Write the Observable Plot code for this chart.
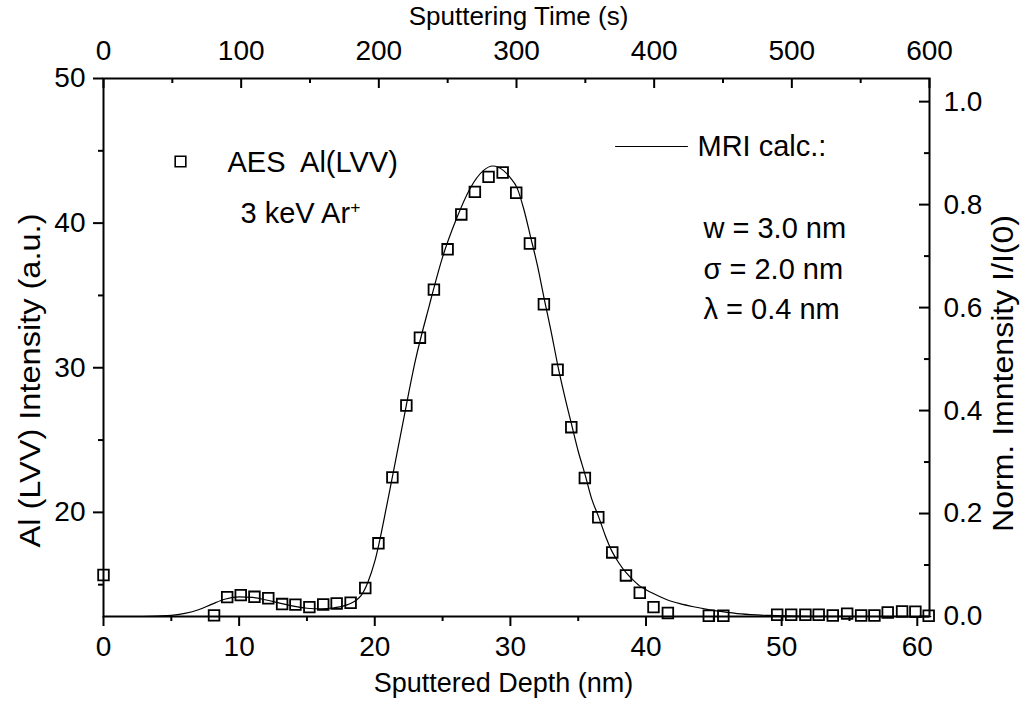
<!DOCTYPE html>
<html>
<head>
<meta charset="utf-8">
<script src="https://cdn.jsdelivr.net/npm/d3@7"></script>
<script src="https://cdn.jsdelivr.net/npm/@observablehq/plot@0.6"></script>
<style>
  html, body { margin: 0; padding: 0; background: #fff; }
  svg text { white-space: pre; }
</style>
</head>
<body>
<div id="chart"></div>
<script>
// ---- measured AES data points: sputtered depth (nm) and Al(LVV) intensity (a.u.)
const aesDepth = [0, 8.15, 9.12, 10.12, 11.13, 12.15, 13.17, 14.15, 15.18, 16.2, 17.19, 18.22, 19.3, 20.27, 21.3, 22.33, 23.33, 24.36, 25.37, 26.38, 27.38, 28.39, 29.43, 30.43, 31.44, 32.47, 33.48, 34.49, 35.49, 36.48, 37.51, 38.52, 39.54, 40.55, 41.61, 44.63, 45.7, 49.67, 50.7, 51.75, 52.73, 53.77, 54.83, 55.86, 56.84, 57.82, 58.88, 59.86, 60.84];
const aesIntensity = [15.67, 12.88, 14.14, 14.28, 14.16, 14.06, 13.66, 13.62, 13.45, 13.63, 13.7, 13.75, 14.77, 17.86, 22.42, 27.39, 32.08, 35.4, 38.19, 40.6, 42.16, 43.2, 43.5, 42.1, 38.59, 34.39, 29.86, 25.89, 22.38, 19.66, 17.23, 15.64, 14.44, 13.45, 13.04, 12.85, 12.85, 12.92, 12.92, 12.92, 12.92, 12.87, 13.0, 12.87, 12.87, 13.08, 13.15, 13.13, 12.85];

// ---- MRI calculation: depth (nm) and normalized intensity I/I(0)
const mriDepth = [0, 2, 4, 5, 6, 7, 8, 9, 10, 11, 12, 13, 14, 15, 16, 17, 18, 19, 19.5, 20, 21, 22, 23, 24, 25, 26, 27, 28, 28.7, 29.5, 30, 30.5, 31, 31.5, 32, 32.5, 33, 33.5, 34, 34.5, 35, 35.5, 36, 36.5, 37, 37.5, 38, 38.5, 39, 39.5, 40, 40.5, 41.5, 42.5, 43.5, 44.5, 45.5, 47, 49, 52, 61];
const mriNorm = [0, 0, 0.001, 0.002, 0.006, 0.013, 0.024, 0.034, 0.038, 0.037, 0.032, 0.026, 0.020, 0.016, 0.015, 0.017, 0.023, 0.041, 0.067, 0.107, 0.231, 0.366, 0.498, 0.602, 0.698, 0.771, 0.830, 0.866, 0.875, 0.866, 0.852, 0.832, 0.790, 0.736, 0.681, 0.616, 0.554, 0.487, 0.428, 0.374, 0.321, 0.276, 0.228, 0.194, 0.157, 0.126, 0.104, 0.086, 0.072, 0.060, 0.052, 0.045, 0.033, 0.025, 0.019, 0.014, 0.010, 0.005, 0.002, 0.0005, 0];

// ---- axes
const depthTicks = [0, 10, 20, 30, 40, 50, 60];
const depthMinor = [5, 15, 25, 35, 45, 55];
const timeTicks = [0, 100, 200, 300, 400, 500, 600];
const timeMinor = [50, 150, 250, 350, 450, 550];
const intensityTicks = [20, 30, 40, 50];
const intensityMinor = [15, 25, 35, 45];
const normTicks = [0.0, 0.2, 0.4, 0.6, 0.8, 1.0];
const normMinor = [0.1, 0.3, 0.5, 0.7, 0.9];
const depthMax = 60.9;       // depth reached at the end of the time axis
const timeMax = 600;         // seconds
const intensityMax = 50;
const intensityAtNormZero = 12.8;   // a.u. corresponding to I/I(0) = 0
const intensityPerNorm = 35.6;      // a.u. per unit of I/I(0)

const toIntensity = n => intensityAtNormZero + intensityPerNorm * n;
const toNorm = v => (v - intensityAtNormZero) / intensityPerNorm;
const timeToDepth = t => t * depthMax / timeMax;

const aes = aesDepth.map((d, i) => ({depth: d, intensity: aesIntensity[i]}));
const mri = mriDepth.map((d, i) => ({depth: d, intensity: toIntensity(mriNorm[i])}));

const W = 1022, H = 702;
const M = {top: 78, right: 93, bottom: 86, left: 103};
const plotW = W - M.left - M.right, plotH = H - M.top - M.bottom;
const FS = 28;       // tick labels
const TFS = 27;      // horizontal axis titles
const VFS = 30;      // vertical axis titles
const LFS = 29;      // legend text
const leftTitle = "Al (LVV) Intensity (a.u.)";
const rightTitle = "Norm. Imntensity I/I(0)";
const lineShape = {draw(ctx, l) { ctx.moveTo(0, 0); ctx.lineTo(0, -l); }};
const legendText = (t, dx, dy) => Plot.text([t], {frameAnchor: "top-left", dx, dy, textAnchor: "start", lineAnchor: "middle", fontSize: LFS});

const chart = Plot.plot({
  width: W, height: H,
  marginTop: M.top, marginRight: M.right, marginBottom: M.bottom, marginLeft: M.left,
  style: {fontFamily: "'Liberation Sans', Arial, sans-serif", color: "#000", background: "#fff"},
  x: {domain: [0, depthMax]},
  y: {domain: [intensityAtNormZero, intensityMax]},
  marks: [
    // bottom axis (outward ticks)
    Plot.axisX({anchor: "bottom", ticks: depthTicks, tickSize: 10, tickPadding: 10, strokeWidth: 2, fontSize: FS, label: null, tickFormat: d => String(d)}),
    Plot.axisX({anchor: "bottom", ticks: depthMinor, tickSize: 5, strokeWidth: 2, label: null, tickFormat: () => ""}),
    // left axis (outward ticks)
    Plot.axisY({anchor: "left", ticks: intensityTicks, tickSize: 10, tickPadding: 8, strokeWidth: 2, fontSize: FS, label: null, tickFormat: d => String(d)}),
    Plot.axisY({anchor: "left", ticks: intensityMinor, tickSize: 5, strokeWidth: 2, label: null, tickFormat: () => ""}),
    // top axis: sputtering time (inward ticks)
    Plot.axisX({anchor: "top", ticks: timeTicks.map(timeToDepth), tickSize: 0, tickPadding: 19, fontSize: FS, label: null,
      tickFormat: d => String(Math.round(d * timeMax / depthMax))}),
    Plot.tickX(timeTicks, {x: timeToDepth, insetBottom: plotH - 10, strokeWidth: 2}),
    Plot.tickX(timeMinor, {x: timeToDepth, insetBottom: plotH - 5, strokeWidth: 2}),
    // right axis: normalized intensity (inward ticks)
    Plot.axisY({anchor: "right", ticks: normTicks.map(toIntensity), tickSize: 0, tickPadding: 14, fontSize: FS, label: null,
      tickFormat: v => toNorm(v).toFixed(1)}),
    Plot.tickY(normTicks, {y: toIntensity, insetLeft: plotW - 10, strokeWidth: 2}),
    Plot.tickY(normMinor, {y: toIntensity, insetLeft: plotW - 5, strokeWidth: 2}),
    Plot.frame({stroke: "#000", strokeWidth: 2}),
    // data
    Plot.line(mri, {x: "depth", y: "intensity", curve: "monotone-x", stroke: "#000", strokeWidth: 1.2}),
    Plot.dot(aes, {x: "depth", y: "intensity", symbol: "square", r: 6, stroke: "#000", strokeWidth: 1.8, fill: "none"}),
    // axis titles
    Plot.text(["Sputtered Depth (nm)"], {frameAnchor: "bottom", dx: -13, dy: 67, textAnchor: "middle", lineAnchor: "middle", fontSize: TFS}),
    Plot.text(["Sputtering Time (s)"], {frameAnchor: "top", dx: 2, dy: -62, textAnchor: "middle", lineAnchor: "middle", fontSize: TFS - 1}),
    Plot.text([leftTitle], {frameAnchor: "left", dx: -73, dy: 33, rotate: -90, textAnchor: "middle", lineAnchor: "middle", fontSize: VFS}),
    Plot.text([rightTitle], {frameAnchor: "right", dx: 74, dy: 26, rotate: -90, textAnchor: "middle", lineAnchor: "middle", fontSize: VFS}),
    // legend
    Plot.dot(["AES"], {frameAnchor: "top-left", dx: 77, dy: 83, symbol: "square", r: 6, stroke: "#000", strokeWidth: 1.6, fill: "#fff", fillOpacity: 0}),
    legendText("AES  Al(LVV)", 124, 84),
    legendText("3 keV Ar", 137, 135),
    Plot.vector(["MRI"], {frameAnchor: "top-left", dx: 512, dy: 68, rotate: 90, length: 72, anchor: "start", shape: lineShape, stroke: "#000", strokeWidth: 1}),
    legendText("MRI calc.:", 594, 68),
    legendText("w = 3.0 nm", 600, 150),
    legendText("\u03c3 = 2.0 nm", 600, 191),
    legendText("\u03bb = 0.4 nm", 600, 231)
  ]
});

const svg = d3.select(chart);
// superscript "+" on Ar
svg.selectAll("text").filter(function() { return this.textContent === "3 keV Ar"; })
  .append("tspan").attr("baseline-shift", "super").attr("font-size", LFS * 0.6).text("+");
// vertical titles run slightly longer in the original
svg.selectAll("text").filter(function() { return this.textContent === leftTitle; })
  .attr("textLength", 334).attr("lengthAdjust", "spacingAndGlyphs");
svg.selectAll("text").filter(function() { return this.textContent === rightTitle; })
  .attr("textLength", 317).attr("lengthAdjust", "spacingAndGlyphs");

document.getElementById("chart").appendChild(chart);
</script>
</body>
</html>
